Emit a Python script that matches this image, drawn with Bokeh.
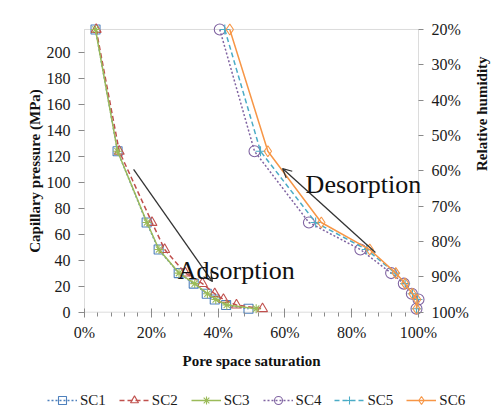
import math
from bokeh.plotting import figure
from bokeh.models import (Range1d, LinearAxis, FixedTicker, PrintfTickFormatter,
                          Legend, LegendItem, Arrow, OpenHead, Label, BoxAnnotation)
from bokeh.embed import file_html
from bokeh.resources import INLINE

# ---------------- data ----------------
pressure_ads = [217.5, 123.8, 69.0, 48.2, 30.1, 22.0, 14.2, 9.8, 5.5, 2.7]
pressure_des = [217.5, 123.8, 69.0, 48.2, 30.1, 22.0, 14.2, 9.8, 2.7]

sc1 = [3.3, 9.9, 18.6, 22.2, 28.2, 32.7, 36.6, 39.0, 42.4, 49.1]
sc2 = [3.5, 10.4, 20.2, 24.0, 30.2, 35.3, 39.0, 41.6, 45.5, 53.3]
sc3 = [3.3, 9.9, 18.7, 22.3, 28.3, 33.0, 36.8, 39.3, 42.6, 51.4]
sc4 = [40.5, 50.9, 67.2, 82.6, 91.8, 95.6, 98.0, 100.0, 99.4]
sc5 = [42.0, 52.7, 69.2, 84.5, 93.0, 96.0, 98.2, 99.7, 99.4]
sc6 = [43.5, 54.9, 70.9, 85.4, 93.2, 96.0, 98.2, 99.6, 99.4]

x_ticks = [0, 20, 40, 60, 80, 100]
y_ticks = [0, 20, 40, 60, 80, 100, 120, 140, 160, 180, 200]
rh_ticks = [20, 30, 40, 50, 60, 70, 80, 90, 100]

X_MIN, X_MAX = 0, 100
Y_MIN, Y_MAX = 0, 217.5
RH_BOTTOM, RH_TOP = 100, 20

FONT = "Liberation Serif"
AX = "#8a8a8a"

# The plot frame covers the whole canvas; axes are pinned with fixed_location
# so that the axis box sits at x 84..418 px and y 29..312 px.
xr = Range1d(-25.150, 121.856)
yr = Range1d(-75.629, 239.811)
slope = (RH_TOP - RH_BOTTOM) / (Y_MAX - Y_MIN)
rh_range = Range1d(RH_BOTTOM + slope * (yr.start - Y_MIN),
                   RH_BOTTOM + slope * (yr.end - Y_MIN))

p = figure(width=491, height=410, output_backend="svg", toolbar_location=None,
           x_range=xr, y_range=yr, min_border=0)
p.extra_y_ranges = {"rh": rh_range}
p.grid.visible = False
p.outline_line_color = None
p.background_fill_color = "white"
p.border_fill_color = "white"

# axis box
p.add_layout(BoxAnnotation(left=X_MIN, right=X_MAX, bottom=Y_MIN, top=Y_MAX,
                           fill_color=None, fill_alpha=0, line_color=AX,
                           line_width=1, level="underlay"))

xa = p.xaxis[0]
xa.fixed_location = Y_MIN
xa.bounds = (X_MIN, X_MAX)
xa.ticker = FixedTicker(ticks=x_ticks, minor_ticks=list(range(0, 101, 4)))
xa.formatter = PrintfTickFormatter(format="%d%%")
xa.axis_label = "Pore space saturation"
xa.major_tick_in = 4
xa.major_tick_out = 5
xa.minor_tick_in = 0
xa.minor_tick_out = 4
xa.major_label_standoff = 7
xa.axis_label_standoff = 8

ya = p.yaxis[0]
ya.fixed_location = X_MIN
ya.bounds = (Y_MIN, Y_MAX)
ya.ticker = FixedTicker(ticks=y_ticks)
ya.axis_label = "Capillary pressure (MPa)"
ya.major_tick_in = 0
ya.major_tick_out = 6
ya.minor_tick_out = 0
ya.minor_tick_in = 0
ya.major_label_standoff = 8
ya.axis_label_standoff = 1

ra = LinearAxis(y_range_name="rh", axis_label="Relative humidity")
ra.fixed_location = X_MAX
ra.bounds = (RH_TOP, RH_BOTTOM)
ra.ticker = FixedTicker(ticks=rh_ticks)
ra.formatter = PrintfTickFormatter(format="%d%%")
ra.major_tick_in = 0
ra.major_tick_out = 5
ra.minor_tick_in = 0
ra.minor_tick_out = 0
ra.major_label_standoff = 8
ra.axis_label_standoff = 10
p.add_layout(ra, "right")

for ax in [xa, ya, ra]:
    ax.axis_line_color = None
    ax.major_tick_line_color = AX
    ax.minor_tick_line_color = AX
    ax.major_label_text_font = FONT
    ax.major_label_text_font_size = "16px"
    ax.major_label_text_color = "#1a1a1a"
    ax.axis_label_text_font = FONT
    ax.axis_label_text_font_size = "15px"
    ax.axis_label_text_font_style = "bold"
    ax.axis_label_text_color = "#111111"
try:
    ra.axis_label_orientation = math.pi / 2
except Exception:
    pass

# ---------------- series ----------------
series = [
    ("SC1", sc1, pressure_ads, "#4F81BD", "2 2", "square", 9),
    ("SC2", sc2, pressure_ads, "#C0504D", "5 3", "triangle", 10),
    ("SC3", sc3, pressure_ads, "#9BBB59", "solid", "asterisk", 9),
    ("SC4", sc4, pressure_des, "#8064A2", "2 2", "circle", 11),
    ("SC5", sc5, pressure_des, "#4BACC6", "5 3", "cross", 10),
    ("SC6", sc6, pressure_des, "#F79646", "solid", "diamond", 11),
]
items = []
for name, xs, ys, col, dash, mk, sz in series:
    lr = p.line(xs, ys, line_color=col, line_width=1.5, line_dash=dash)
    sr = p.scatter(xs, ys, marker=mk, size=sz, line_color=col, fill_color=None,
                   line_width=1.1)
    items.append(LegendItem(label=name, renderers=[lr, sr]))

legend = Legend(items=items, orientation="horizontal", location=(47, 0),
                glyph_width=30, glyph_height=20, label_standoff=3, spacing=13,
                padding=0, margin=0, border_line_color=None,
                background_fill_alpha=0,
                label_text_font=FONT, label_text_font_size="15px",
                label_text_color="#1a1a1a", label_height=20)
p.add_layout(legend, "center")

# ---------------- annotations ----------------
p.add_layout(Arrow(end=OpenHead(size=9, line_color="#333333", line_width=1.2),
                   x_start=14.7, y_start=109.8, x_end=38.3, y_end=23.6,
                   line_color="#333333", line_width=1.3))
p.add_layout(Arrow(end=OpenHead(size=9, line_color="#333333", line_width=1.2),
                   x_start=87.1, y_start=45.9, x_end=59.3, y_end=110.5,
                   line_color="#333333", line_width=1.3))
p.add_layout(Label(x=27.9, y=32.0, text="Adsorption", text_font=FONT,
                   text_font_size="26px", text_baseline="alphabetic",
                   text_color="#111111"))
p.add_layout(Label(x=66.2, y=98.2, text="Desorption", text_font=FONT,
                   text_font_size="26px", text_baseline="alphabetic",
                   text_color="#111111"))

open("out.html", "w").write(file_html(p, INLINE))
